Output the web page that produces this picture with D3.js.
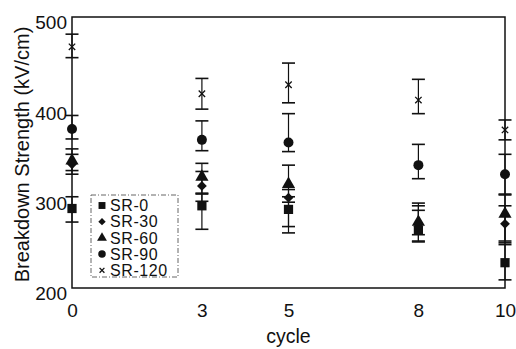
<!DOCTYPE html>
<html>
<head>
<meta charset="utf-8">
<script src="https://cdn.jsdelivr.net/npm/d3@7"></script>
<style>
  html, body { margin: 0; padding: 0; background: #fff; }
  svg { display: block; font-family: "Liberation Sans", Arial, sans-serif; }
</style>
</head>
<body>
<svg id="chart" width="516" height="349"></svg>
<script>
// ---- data ----
const cycles = [0, 3, 5, 8, 10];
const xTicks = [0, 3, 5, 8, 10];
const yTicks = [200, 300, 400, 500];
const seriesNames = ["SR-0", "SR-30", "SR-60", "SR-90", "SR-120"];

const sr0    = [288, 291, 287, 264, 228];
const sr0Up  = [13, 13, 14, 22, 20];
const sr0Dn  = [15, 26, 26, 13, 19];

const sr30   = [337, 313, 300, 268, 271];
const sr30Up = [11, 16, 9, 23, 20];
const sr30Dn = [11, 17, 32, 16, 21];

const sr60   = [341, 323, 315, 273, 282];
const sr60Up = [13, 15, 21, 21, 21];
const sr60Dn = [11, 18, 20, 14, 30];

const sr90   = [376, 364, 361, 336, 326];
const sr90Up = [15, 21, 32, 23, 22];
const sr90Dn = [11, 12, 10, 15, 22];

const sr120   = [467, 415, 425, 408, 375];
const sr120Up = [14, 17, 24, 23, 11];
const sr120Dn = [12, 17, 20, 15, 11];

const values = [sr0, sr30, sr60, sr90, sr120];
const ups = [sr0Up, sr30Up, sr60Up, sr90Up, sr120Up];
const dns = [sr0Dn, sr30Dn, sr60Dn, sr90Dn, sr120Dn];
const symbols = [d3.symbolSquare, d3.symbolSquare, d3.symbolTriangle, d3.symbolCircle, d3.symbolCross];

// ---- layout ----
const svg = d3.select("#chart");
const L = 72, R = 505, T = 17, B = 288;
const x = d3.scaleLinear().domain([0, 10]).range([L, R]);
const y = d3.scaleLinear().domain([200, 500]).range([B, T]);
const ink = "#111";

// frame
svg.append("rect").attr("x", L).attr("y", T).attr("width", R - L).attr("height", B - T)
  .attr("fill", "none").attr("stroke", ink).attr("stroke-width", 1.5);

// axes (labels only)
const yAxis = svg.append("g").attr("transform", `translate(${L},0)`)
  .call(d3.axisLeft(y).tickValues(yTicks).tickSize(0).tickPadding(5));
yAxis.select(".domain").remove();
yAxis.selectAll("text").attr("font-size", 19).attr("fill", ink).attr("dy", "0.62em")
  .attr("font-family", "Liberation Sans, Arial, sans-serif");

const xAxis = svg.append("g").attr("transform", `translate(0,${B})`)
  .call(d3.axisBottom(x).tickValues(xTicks).tickSize(0).tickPadding(16));
xAxis.select(".domain").remove();
xAxis.selectAll("text").attr("font-size", 19).attr("fill", ink)
  .attr("font-family", "Liberation Sans, Arial, sans-serif");

// axis titles
svg.append("text").attr("transform", `translate(29,${(T + B) / 2 + 2}) rotate(-90)`)
  .attr("text-anchor", "middle").attr("font-size", 20).attr("fill", ink)
  .text("Breakdown Strength (kV/cm)");
svg.append("text").attr("x", (L + R) / 2).attr("y", 343)
  .attr("text-anchor", "middle").attr("font-size", 19.5).attr("fill", ink)
  .text("cycle");

// error bars
const capW = 6.5;
values.forEach((vals, s) => {
  const g = svg.append("g");
  vals.forEach((v, i) => {
    const cx = x(cycles[i]);
    const y1 = y(v + ups[s][i]), y2 = y(v - dns[s][i]);
    g.append("line").attr("x1", cx).attr("x2", cx).attr("y1", y1).attr("y2", y2)
      .attr("stroke", ink).attr("stroke-width", 1.2);
    [y1, y2].forEach(yy => g.append("line").attr("x1", cx - capW).attr("x2", cx + capW)
      .attr("y1", yy).attr("y2", yy).attr("stroke", ink).attr("stroke-width", 1.6));
  });
});

// markers
function drawMarker(g, s, cx, cy, scale) {
  if (s === 4) {
    const h = 3.2 * scale;
    g.append("path").attr("d", `M${cx - h},${cy - h}L${cx + h},${cy + h}M${cx - h},${cy + h}L${cx + h},${cy - h}`)
      .attr("stroke", ink).attr("stroke-width", 1.3).attr("fill", "none");
  } else {
    const sizes = [85, 48, 75, 78];
    const rot = s === 1 ? " rotate(45)" : "";
    g.append("path").attr("d", d3.symbol().type(symbols[s]).size(sizes[s] * scale * scale)())
      .attr("transform", `translate(${cx},${cy})${rot}`).attr("fill", ink);
  }
}
values.forEach((vals, s) => {
  const g = svg.append("g");
  vals.forEach((v, i) => drawMarker(g, s, x(cycles[i]), y(v), 1));
});

// legend
const lg = svg.append("g");
lg.append("rect").attr("x", 91).attr("y", 195).attr("width", 87).attr("height", 82)
  .attr("fill", "#fff").attr("stroke", "#666").attr("stroke-width", 1)
  .attr("stroke-dasharray", "5,2,1,2");
seriesNames.forEach((name, s) => {
  const cy = 205.5 + s * 16.2;
  drawMarker(lg, s, 102, cy, 0.75);
  lg.append("text").attr("x", 110).attr("y", cy).attr("dy", "0.36em")
    .attr("font-size", 16).attr("letter-spacing", 0.6).attr("fill", ink).text(name);
});
</script>
</body>
</html>
